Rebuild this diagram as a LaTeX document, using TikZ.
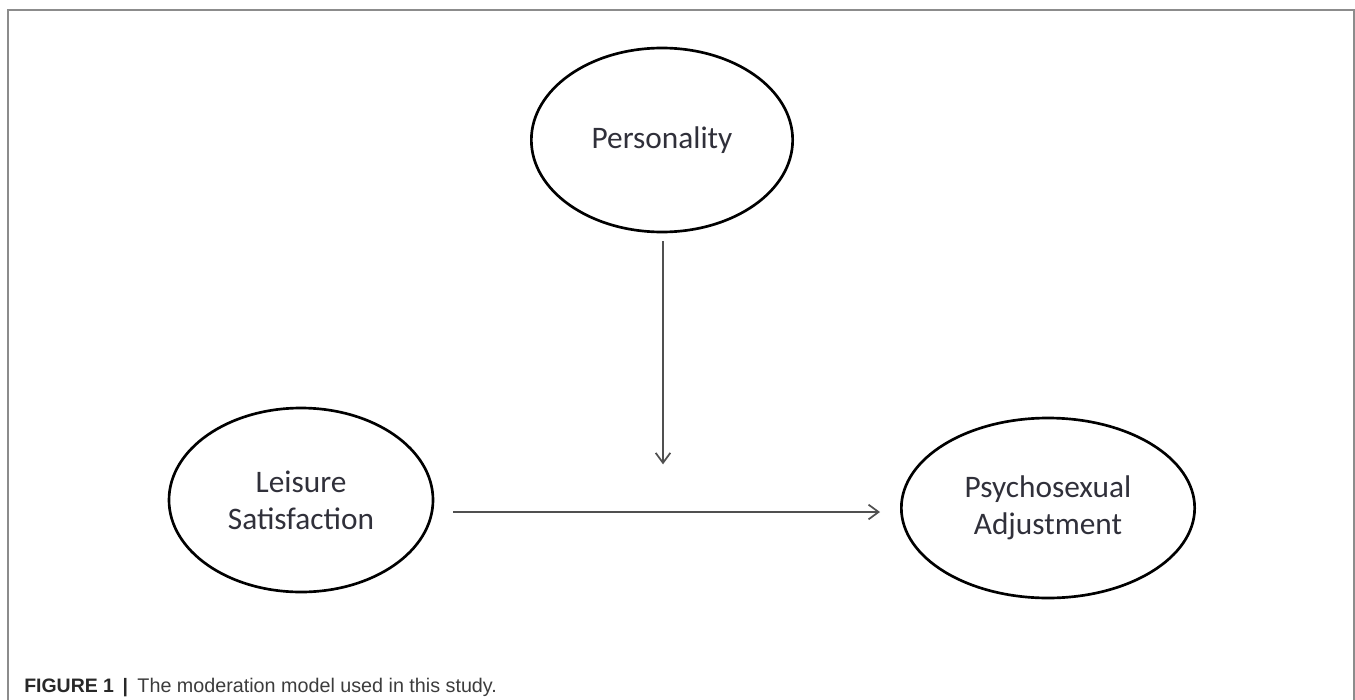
\documentclass[tikz,border=0pt]{standalone}
\usepackage{fontspec}
\setmainfont{Carlito}
\newfontfamily\capfont{Liberation Sans}
\usetikzlibrary{shapes.geometric,arrows.meta,calc}
\definecolor{txt}{RGB}{48,48,58}
\definecolor{arrc}{RGB}{80,80,80}
\definecolor{framec}{RGB}{140,140,140}
\definecolor{capc}{RGB}{40,40,40}
\definecolor{capt}{RGB}{60,60,60}
\tikzset{
  var/.style={ellipse, draw=black, line width=2pt, inner sep=0pt, text=txt,
    align=center, font=\fontsize{23.5}{27.5}\selectfont},
  arr/.style={draw=arrc, line width=1.4pt, -{Straight Barb[length=7.5pt,width=11pt,line width=1.3pt]}},
}
\begin{document}
\begin{tikzpicture}[x=0.75pt,y=-0.75pt]
\useasboundingbox (0,0) rectangle (1355,699);
\clip (0,0) rectangle (1355,699);
\draw[framec, line width=1.5pt] (8,720) -- (8,10.5) -- (1353.5,10.5) -- (1353.5,720);
\node[var, minimum width=196pt, minimum height=138pt] (pers) at (662,140) {Personality};
\node[var, minimum width=198pt, minimum height=138pt] (leis) at (301,500) {Leisure\\Satisfaction};
\node[var, minimum width=220pt, minimum height=135pt] (psy) at (1048,508) {Psychosexual\\Adjustment};
\coordinate (hstart) at ($(leis.east)+(19,12)$);
\coordinate (hend) at ($(psy.west)+(-20,4)$);
\draw[arr] (hstart) -- (hend);
\draw[arr] ($(pers.south)+(1,8)$) -- ($(pers.south)+(1,231)$);
\node[anchor=base west, inner sep=0pt, text=capc, font=\capfont\fontsize{14.6}{17}\selectfont] (cap) at (24,692)
  {\textbf{FIGURE 1}\hspace{6.5pt}\textbf{|}\hspace{7pt}{\color{capt}\fontsize{14.8}{18}\selectfont The moderation model used in this study.}};
\end{tikzpicture}
\end{document}
